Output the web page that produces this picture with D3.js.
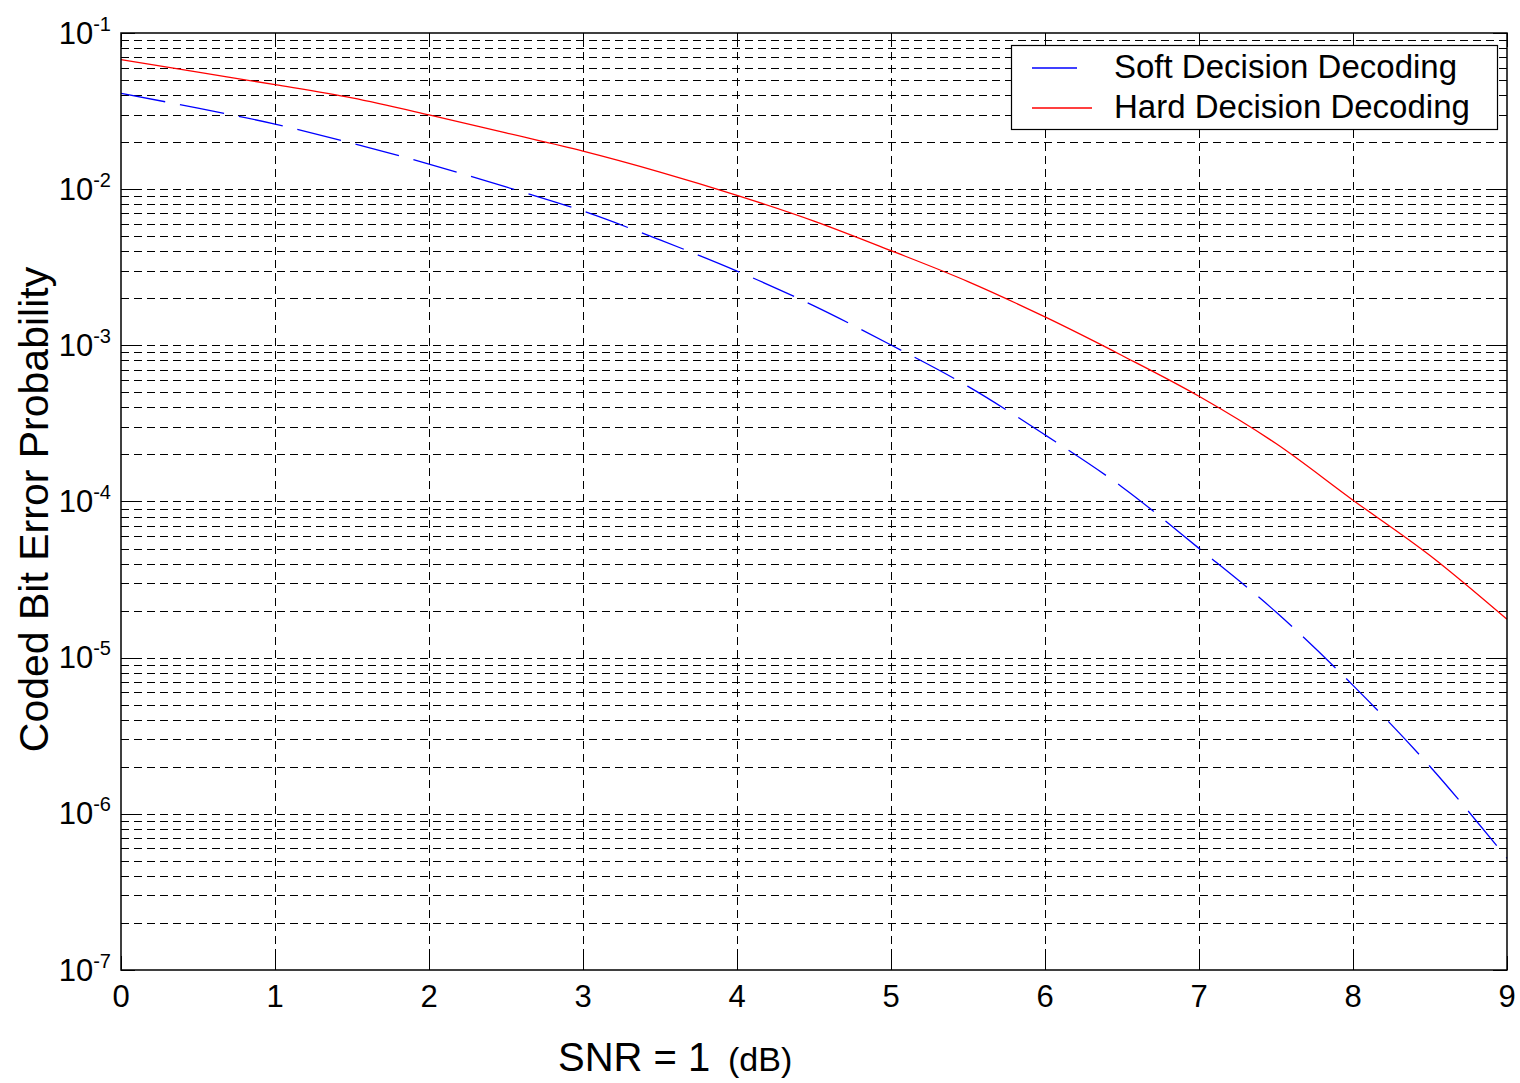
<!DOCTYPE html>
<html lang="en">
<head>
    <meta charset="UTF-8">
    <title>Coded Bit Error Probability</title>
    <style>
        body, html {
            margin: 0;
            padding: 0;
            background-color: #ffffff;
        }
        svg {
            font-family: "Liberation Sans", Arial, sans-serif;
            display: block;
        }
        .grid line {
            stroke: #000;
            stroke-width: 1px;
            stroke-dasharray: 8,5;
            shape-rendering: crispEdges;
        }
        .tick-mark {
            stroke: #000;
            stroke-width: 1px;
            shape-rendering: crispEdges;
        }
    </style>
</head>
<body>
    <div id="chart"></div>

    <script src="https://d3js.org/d3.v7.min.js"></script>

    <script>
        // values
        const snrDb = [0, 0.5, 1, 1.5, 2, 2.5, 3, 3.5, 4, 4.5, 5, 5.5, 6, 6.5, 7, 7.5, 8, 8.5, 9];
        const softBer = [0.0411, 0.0330, 0.0261, 0.0197, 0.01449, 0.01033, 0.00724, 0.00473, 0.00299,
            0.00179, 0.001005, 5.46e-4, 2.67e-4, 1.24e-4, 5.01e-5, 1.96e-5, 6.65e-6, 2.01e-6, 5.19e-7];
        const hardBer = [0.0675, 0.0561, 0.0467, 0.0384, 0.0299, 0.0229, 0.01754, 0.01288, 0.00914,
            0.00625, 0.00404, 0.00256, 0.00152, 8.61e-4, 4.72e-4, 2.35e-4, 1.02e-4, 4.51e-5, 1.76e-5];

        const xTicks = [0, 1, 2, 3, 4, 5, 6, 7, 8, 9];
        const yExponents = [-1, -2, -3, -4, -5, -6, -7];
        const seriesNames = ["Soft Decision Decoding", "Hard Decision Decoding"];
        const seriesColors = ["#0000ff", "#ff0000"];

        const width = 1520, height = 1083;
        const margin = { left: 121, top: 33, right: 13, bottom: 113 };

        const svg = d3.select('#chart').append('svg')
            .attr('width', width)
            .attr('height', height);

        const x = d3.scaleLinear().domain([0, 9]).range([margin.left, width - margin.right]);
        const y = d3.scaleLog().domain([1e-7, 1e-1]).range([height - margin.bottom, margin.top]);

        const x0 = x.range()[0], x1 = x.range()[1];
        const y0 = y.range()[0], y1 = y.range()[1];

        // grid: every 1..9 x 10^k horizontal, integer SNR vertical
        const grid = svg.append('g').attr('class', 'grid');
        grid.selectAll('line.h')
            .data(y.ticks().filter(v => v > 1.0001e-7 && v < 0.9999e-1))
            .enter().append('line')
            .attr('class', 'h')
            .attr('x1', x0).attr('x2', x1)
            .attr('y1', d => Math.round(y(d)) + 0.5)
            .attr('y2', d => Math.round(y(d)) + 0.5);
        grid.selectAll('line.v')
            .data(xTicks.slice(1, -1))
            .enter().append('line')
            .attr('class', 'v')
            .attr('y1', y0).attr('y2', y1)
            .attr('x1', d => Math.round(x(d)) + 0.5)
            .attr('x2', d => Math.round(x(d)) + 0.5);

        // tick marks inside the box on all sides
        const ticks = svg.append('g');
        xTicks.forEach(t => {
            const px = Math.round(x(t)) + 0.5;
            ticks.append('line').attr('class', 'tick-mark')
                .attr('x1', px).attr('x2', px).attr('y1', y0).attr('y2', y0 - 14);
            ticks.append('line').attr('class', 'tick-mark')
                .attr('x1', px).attr('x2', px).attr('y1', y1).attr('y2', y1 + 14);
        });
        y.ticks().forEach(v => {
            const py = Math.round(y(v)) + 0.5;
            const isMajor = Math.abs(Math.log10(v) - Math.round(Math.log10(v))) < 1e-6;
            const len = isMajor ? 14 : 7;
            ticks.append('line').attr('class', 'tick-mark')
                .attr('x1', x0).attr('x2', x0 + len).attr('y1', py).attr('y2', py);
            ticks.append('line').attr('class', 'tick-mark')
                .attr('x1', x1).attr('x2', x1 - len).attr('y1', py).attr('y2', py);
        });

        // curves
        const line = d3.line()
            .x((d, i) => x(snrDb[i]))
            .y(d => y(d))
            .curve(d3.curveMonotoneX);

        svg.append('path')
            .attr('d', line(softBer))
            .attr('fill', 'none')
            .attr('stroke', seriesColors[0])
            .attr('stroke-width', 1.3)
            .attr('stroke-dasharray', '45,15');

        svg.append('path')
            .attr('d', line(hardBer))
            .attr('fill', 'none')
            .attr('stroke', seriesColors[1])
            .attr('stroke-width', 1.3);

        // box
        svg.append('rect')
            .attr('x', x0).attr('y', y1)
            .attr('width', x1 - x0).attr('height', y0 - y1)
            .attr('fill', 'none')
            .attr('stroke', '#000')
            .attr('stroke-width', 1.5);

        // x tick labels
        svg.selectAll('text.xlab')
            .data(xTicks)
            .enter().append('text')
            .attr('class', 'xlab')
            .attr('x', d => x(d))
            .attr('y', y0 + 37)
            .attr('text-anchor', 'middle')
            .attr('font-size', 31)
            .text(d => d);

        // y tick labels 10^k
        const ylab = svg.selectAll('text.ylab')
            .data(yExponents)
            .enter().append('text')
            .attr('class', 'ylab')
            .attr('x', 111)
            .attr('y', d => y(Math.pow(10, d)) + 10.5)
            .attr('text-anchor', 'end')
            .attr('font-size', 31);
        ylab.append('tspan').text('10');
        ylab.append('tspan')
            .attr('dy', -13)
            .attr('font-size', 20)
            .text(d => '-' + Math.abs(d));

        // axis titles
        svg.append('text')
            .attr('x', 558)
            .attr('y', 1071)
            .attr('font-size', 40)
            .text('SNR = 1');
        svg.append('text')
            .attr('x', 728)
            .attr('y', 1071)
            .attr('font-size', 34)
            .text('(dB)');

        svg.append('text')
            .attr('transform', `translate(48, ${(y0 + y1) / 2 + 8}) rotate(-90)`)
            .attr('text-anchor', 'middle')
            .attr('font-size', 41)
            .text('Coded Bit Error Probability');

        // legend
        const legend = svg.append('g');
        legend.append('rect')
            .attr('x', 1011.5).attr('y', 45.5)
            .attr('width', 486).attr('height', 84)
            .attr('fill', '#fff')
            .attr('stroke', '#000')
            .attr('stroke-width', 1.2);

        seriesNames.forEach((name, i) => {
            const ly = 68 + i * 40;
            legend.append('line')
                .attr('x1', 1032).attr('x2', 1092)
                .attr('y1', ly).attr('y2', ly)
                .attr('stroke', seriesColors[i])
                .attr('stroke-width', 1.3)
                .attr('stroke-dasharray', i === 0 ? '45,15' : null);
            legend.append('text')
                .attr('x', 1114)
                .attr('y', ly + 10)
                .attr('font-size', 33)
                .text(name);
        });
    </script>
</body>
</html>
